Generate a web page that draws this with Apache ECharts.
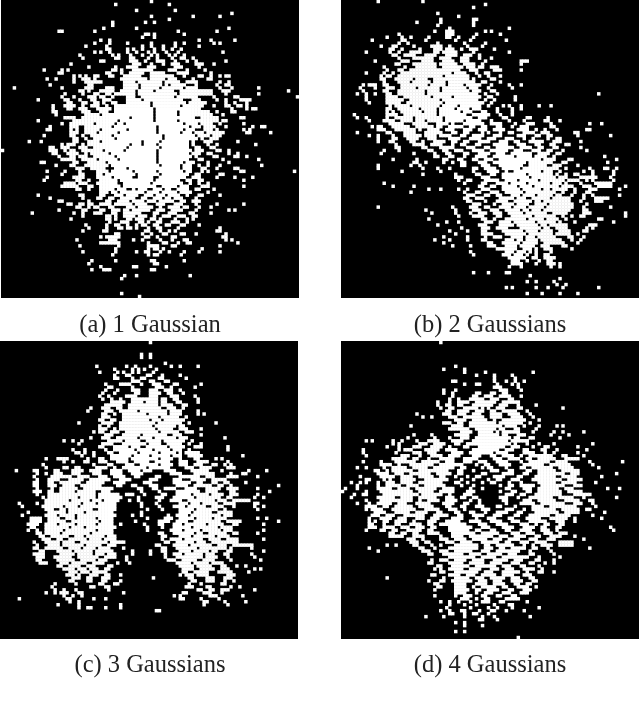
<!DOCTYPE html>
<html>
<head>
<meta charset="utf-8">
<title>Gaussian mixtures</title>
<style>
  html, body { margin: 0; padding: 0; background: #fff; overflow: hidden; }
  #main { width: 640px; height: 704px; }
</style>
</head>
<body>
<div id="main"></div>
<script src="https://cdn.jsdelivr.net/npm/echarts@6/dist/echarts.min.js"></script>
<script>
// white cells of each binary image, one string per row, "a-b" is a run of columns
const rowsA = [
'50','38 56','','45 58','77','50 64 73','56','37 48 51','37','34 45 76',
'19-20 31 59 72','48-49 51 61','47 51','33 36 66 70 78','31 36 42 50 58 61 71 73','28 35 47 50 54 58 66','35-36 42 44 47 51 54 57 60','31 33 36 42 45 49 51 55 59 74','26 37 39 43 47 50 52 56 58 61','27 38-39 43-44 49 52 57 60-61 64',
'33-34 43-45 48 52-54 58 62 65 75','23 44-46 50 54 57-59 65-67 71','29 38 42-45 49-51 58-60 66','14 20 22 37-38 40 44-50 56-58 62 68','19-20 35-36 40 43-47 50-54 59-62 70','24 26 28 31-32 36-37 41-46 50-57 61 66-67 70 73 75-76','15 18 24 27-29 31 40-48 50-54 56-58 64 69-70','24 28-33 41-44 46-53 55-59 62-65 73 76','16 29-30 41-45 47-53 55 57-61 65 72 75-76','4 20 28-30 35-37 41-45 47-52 54-60 62-65 73 77 86',
'26-27 29 33-37 40-44 46-50 52-57 60-70 74-76 96','21 27 31-32 35-36 38-44 46-58 60-70 75 86','20 24 29-31 33-34 37 42-44 47-57 59-65 71 78-79 99','12 21-22 26 30-31 34-36 42-46 48-60 64-66 72 75 80-83','22-23 27-28 31-32 34 37-38 42-49 51-61 63-68 75 78 82','17 21-24 27 30-32 35 38-49 51-59 61-67 71 75-76 79-80 82','17 22-23 26-28 32-36 38-50 52-66 77 82 84-85','17-18 27-29 33-35 38-50 52-58 60-69 72 77-78','18 28-32 34-50 52-58 60-70 74','21-24 27-42 44-50 52-64 67-72 80-81',
'12 24-38 40-50 52-58 60-72 74-75','20 23-30 32-37 39-40 42-60 62-65 67-70 73 81','16 23-25 28-36 38-51 53-62 64-66 68-71 75 84 87-88','15-16 23 25 28-32 34-41 43-51 53-60 62-64 68-70 72 81 83','23-25 28-31 33-38 40-51 53-59 61-63 65-67 69-74 82-83 90','14 23-24 27 30-36 38-53 55-64 66-69 71-73','24-25 28 31-37 39-53 55-65 67 70-72','9 13 24-25 29-32 34-46 48-52 54-62 64 68-70 79','20 22-24 27 29-42 44-46 48-51 53-62 64 69 72 85','16-17 20-22 26-28 31-41 43-52 54-62 65-66 70-71',
'0 16-18 21 23-24 27-33 35-40 42-51 53-63 65-67 72-73 76','17-18 22-25 28 30-35 37-51 53-62 64-66 69-70 76 79','19 23-24 26-28 31-37 39-51 53-63 65 71-72 78-79 82','20-24 27-31 33-38 40-51 53-62 66-67 74 86','13-14 24-25 29-34 36-51 53-60 62-64 69 76','18 23-24 28-35 37-52 54-59 61-63 66 69 73 87','25-27 30-34 38-41 43-59 61-63 67-68 72 78-79','15 21 26 32-35 37-43 45-51 53-60 62-63 67 69 80-81 98','20 26-27 32-33 35-44 46-52 54-62 65-66 73-74','15 24-27 32-36 38-43 46-50 53-61 64-66 72 78 84',
'14 25-26 29 33-38 40-50 52-59 62-63 66-67 81','21-24 26-28 32-38 41-49 51-60 63 66 69','20-25 29-30 33-39 41-51 54-58 60-62 67-69 81','25-26 29 33-37 39-41 44 46-48 51-53 55-56 59-62 65-66 71','33-35 37-38 40-47 49-52 54-58 60-63 69','12 26-27 33-34 38-40 42-45 48-50 52-54 56-59 62 66-67 73','16 27 32-33 36-37 40-44 47-48 51-53 55-56 58-60 65','19-20 29 35-36 39-42 44-47 49-51 53-57 60-61 64-66','22-23 26-27 29-30 33-36 38-43 45-48 52-54 58-60 65 72 81','25-26 29 31-32 36-37 42-44 46-50 53 56-59 61-62 66 70',
'19 27-28 33-34 37-39 41-42 44-49 52-54 57-60 65 76 78','10 24 27 31-33 37-38 41-46 51-52 56-58 63-64 70','27 35-36 38 41-44 46-48 51 54-56 59-61 64-65','23 35-36 38 42-43 45-47 50-51 53 58 62 64','36 40-42 46-47 49 52-53 57-59 62','28 35 38-39 42 45 47-48 51-52 55-56 60-61 66','29 35 39-40 42-43 45 49 52-53 59 73','27 34-35 48-49 53 56 58 72-73','38-39 47 50 54-55 60-61 65 75','33 35-39 48-49 52 57-58 74-75',
'25 36-38 44 47 53 57 61-62 75 77','33-39 49 54-55 59 62-63 79','26 39 49-52 57-58 73','38 49 51-52 54 67','27 38 45 48-49 53 56 61 66 73','37 49 51-52 60','','30 38 50-51 61','29 51-52','33 44-45 55',
'30 34-36 50-51','','41 45 63','40','','','','','40',
'46'];
const rowsB = [
'12 27','48','44','','32','39','33 44-45','25 33 44','32 44','36 56',
'31 35-37 48 50','19 35-37 45 53','15 20 23 29 35-36 39 44','10 20-21 28 38 43 55','19 22 32 41 48','13 17-18 24 30-33 36 42 47','16-17 20 26 31-33 35-37 40 43-45 51','8 16 19 23-26 31-32 34-38 44 56','17-18 21-24 28-31 35-38 41-43 46','19 24-30 33-36 40-42 46 50',
'11 20-22 27-30 34-37 40-42 48 60-62','18-19 24-31 33-38 41-44 47 60','14 21 25-31 34-40 42-44 46-47 50-52','15 19-20 23-39 43-45 51-53 60','8 14 17 20-36 38-41 45 48-49','13 15-16 19-33 35-42 46 49 53','13-14 18-23 25-28 31-42 44 50-51','14 19-22 24-29 31-34 36-44 47-48 53','7 9-11 14-15 20-28 30-34 36-40 42-46 50 56 60','6 11 15-17 20-24 26-32 34-41 43-45 49 57',
'7 14-15 19-27 29-32 34-42 44-46 50-51','5 8 11 15-16 19-27 29-45 48 52 86','8 15-18 21-29 31-36 38-46 49-50 58','8 15-20 23-32 34-45 48 51 58','9 15-19 22-33 35-47 50','16 18-22 24-32 34-38 40-46 49 54 56 60 66 70','15-16 19-25 27-31 33-37 39-42 44-46 52 57 60','15 17 20-26 28-31 33-39 41-43 47-48 52 57','4 15-18 21-31 33-41 44-49 53 57','5 8 15 18-23 25-33 35-43 46-48 54-55 62-63 69',
'9 14-17 20-23 25-27 29-33 35-40 42-46 50 56 61 68-69 73','16-20 24-28 32-35 37 41-47 50-53 58 62-64 70 83 87','10 12-13 17-22 25-30 32-33 36-40 43-44 47-48 52-53 57 60-62 70-71','12-14 18-24 26 29-32 35-37 41-43 46-48 51-54 59-62 65 68 72 82-83','5 15-16 21-24 28-33 37-38 41-42 47 49 53 56-57 61-64 67-69 78-79','9 12 17 21-26 28-31 33-36 40-41 44-47 51-53 59-61 65-66 69-70 79 90','12 17-18 22-25 29-31 36-39 43-46 49-51 55-57 61 64 69 72-73','12 16-17 23-24 27 31-34 37-38 41-42 46-49 53-55 58-59 63-67 71-73 80','18 24-27 30-33 37 40-41 45-46 51-55 59-61 65-66 70-71 75-76','18-19 27-28 33-37 42-44 48-49 52-57 60-63 66-67 71-72 80',
'14 19 29-30 34-35 38-40 44-47 50-55 58-60 64-66 69-70 74 82','13 24 31 35-36 41-42 46-49 52-54 57-63 66-69 72-73','31-32 36-37 41 45-48 51-57 59-63 65-68 71 88','17 25 34-35 39-40 44-45 48-50 53-66 68-71 76-77 92','24-25 28 34 37 40-41 46-48 51-61 63-70 74-75 89','12 23 26 40-41 47-49 53-60 63-68 71-73 79','12 27 32 36 44-45 48-51 54-59 61-72 75 83 88-89 92','20 33 44 49-52 55 58-66 68-70 73 81 84 91','27 38 45-46 50-51 54-61 63-70 72 75 78-79 84 91','38-40 47-49 54-62 64-71 73-75 80-85 90',
'39 42-43 48-52 55-58 60-65 67-74 76-79 82 84 91','14 41 47-48 52-55 57-61 63-69 71-73 75 80 85-90','17 24 46-47 50-51 54-58 60-63 65-72 74-77 81-83 86-90 95','29 33 39 42 47-49 54-59 61-66 68-69 71-75 78 83-85 93','23 41 45-46 50-52 55-60 62-71 74 78 82-83','42-44 48-49 52-53 57-59 61-64 66-70 72-73 77 81 84 93','41-42 45-47 53-57 59-61 64-69 71-76 81 85-89','42-43 48 52-55 58-63 65-66 68-76 80 85-87','44-46 51 54-57 59-62 65-68 70-77 82','12 37 43-45 48-49 53-56 58-61 63-67 69-77 81 90',
'28 38 44-46 50-52 55-59 61-62 64-66 68-76 81-82','30 38 43 46-48 51-53 56-60 62-68 71-75 81-83 95','39 44-47 52-53 57-63 65-71 74 77 80-81 95','29 47-48 51 55-61 63-67 69-72 75 86-87','35 39 48-50 53-56 58-64 66-71 73 78 91','32 46-48 53-57 59-65 67-68 70-75 83-85','40 47-49 52-55 60-66 68-69 72-75 82 84','36 42 47-48 54-60 62-65 67-70 73-76 81-82','38 47-50 55-61 63-70 72-76 79','34 42 48 51-53 57-60 62-64 66-71 76-77 81',
'31 36 42 47-48 55-57 59-60 62-65 67-73 77 80','34 49-50 54-59 61-65 68-74 79','37 43 49-51 55-58 60-64 67-69 74-75','52-58 61-63 65 68-70 77','43 55-57 59-61 63 65 70','44 54-56 58-60 62 65 68-69','56-61 64-65 68-71','57-59 62 66 69-70','57-60 65 69-71 73','56 60 70 73',
'','44 49 55-56','63','73','62 65 71','72 75','55 57 65 69 74 86','','62 67 73 79','',
'60 62 66','','','','','','','','','68'];
const rowsC = [
'50','','','','47 50','47 50','','55','32 42 45 50 57 60 66','38 44 46 48 52',
'33 39 41 44 46 51','38 42-43 49-50 54 60','38-39 44 47-48 53-54 62','44-46 50-51 55-56','35 40-43 47 51-53 58-59 67','36-37 44 52-54 57 65','35 39 44-46 50-52 55-57 60','34 38 45-46 50-53 56-57 61','33 36 42-45 50-52 57-59 65','34 37 40 44-52 54-55 58-59 66',
'37-41 44-47 49-52 54-55 59-60 66','35-40 43-52 54-57 61-62','30 34-36 39-40 43-53 56-58 61','29 35-37 40-45 47-55 57-60 66','34-35 38 41-48 50-55 57-60 66 68','34-36 41-52 54-59 62','33-34 37-38 41-49 51-53 55-61','26 34-37 40-51 53-60 63 72','33 36 40-50 52-58 60-61','33-35 38 40-51 53-57 60-62 67',
'31 33-34 37-39 42-52 54-59 62-64','35-37 41-46 48-55 58-60 67','30 34-36 39-45 47-50 52-58 60-62 75','21 24 27 36-40 42-46 49-53 55-61 64','26 34-37 41-48 50-53 56-60 63 67','33-34 38-42 44-46 49-55 57-61 65-67 76','24 28 35 38-44 46-50 52-56 58-60 63 76','25-26 28 31 36-37 40-45 47-52 54-58 60 62-66','27 31 37-43 45-49 51-56 58-60 63-67 81','15 19-22 29 33-34 37-42 44-52 54-57 60 65-66 72 74',
'21 24 28-29 33-35 39-42 45-49 52-56 60-62 66-69 76','14 31 36-37 42-44 47-52 54-57 60-62 65-67 71-72 75 77','15 21-22 25-26 32-35 38 41-48 50-56 62-64 67-70 76-78','5 11-12 18-19 24-27 30-33 37-40 43-46 48-50 55-58 64-69 74 83 89','12 15 18-20 24-26 31-33 37-40 44-47 57-60 65-71 77 81-82','11 17-23 26-29 33-35 38-41 45-46 52-53 60-66 69-71 76-79 86','12 16-19 23-27 30-36 40-43 50-52 58-60 64-68 71-75','11-12 16-17 20-26 29-34 38-41 48-50 58-63 66-67 71-72 75-76 82','11-12 16-18 21-24 27-33 39-40 44-45 50-52 59-62 65-70 73-74 77 93','12 17 20-25 28-37 46-47 51-52 55-58 62-65 69-73 76-79 86',
'11-13 16-17 20-24 26-31 34-36 47 53 59-66 69-72 77-78 90','12 16-31 33-39 42-44 48 54-55 59-63 65-69 71-74 77-79 86','14 16-25 27-31 33-40 46 52-54 58-64 66-73 76-77 85 88','15-22 24-29 31-33 35-39 43 46 53 57-60 63-71 73-75 78-83','6 12 15-26 28-31 33-38 47 52 60-62 64-66 68-72 75-78 85-86','7 14-20 22-25 27-38 47 53 58-61 63-68 71-74 78 85 88','15-17 20-21 23-30 33-38 49 54 60-64 66-72 75 86','9 16-21 23-27 29-37 47 60-63 65-70 73-77','7 15-18 20-24 26-38 44 47 56 59-62 64-73 75-77','10-13 16-19 22-24 26-31 33-37 49 55-57 60-64 66-70 72-75 86 89',
'10-13 16-21 24-32 34-37 45 53-56 59-62 65-73 76-80 93','9-12 15-18 20-24 26-31 33-37 40 48 53-54 58-60 62-68 70-74 78-79 88','10-11 15-22 24-27 29-38 49 54 58-63 65-72 74-77','9 12 15-20 22-31 33-37 49 57-60 62-66 68-73 75-77 88','12-13 15-19 21-29 31-37 53-54 58-64 66-67 70-75 78-79 86','13-14 17-22 25-27 29-34 36-38 54-55 60-63 65-71 73-76','14-16 19-20 23-28 30-33 35-38 54 57-60 62-67 70-73 76-79 88','11 15-19 21-24 27-35 37-41 55-56 59-64 66-68 71-79','12 16-19 21-27 29-33 36-38 52-53 58-62 64-70 73-75 78-84','11-12 15-20 23-26 28-31 33-36 41 54-55 59-65 67-75 77 84',
'13-14 19-23 25-30 32-37 44 50 54-55 60-63 65-69 71-72 76-77 88','11-14 20-24 26-30 32-34 36-38 44 50 55 58-60 62-67 69-71 75-76 84','12-14 18-23 26-32 35-38 42 55 59-67 69-72 76 85','12-13 19-24 27-31 33-35 42 56-58 61-65 68-71 77 87','13-15 20-22 24-28 31-34 39 43 59-63 65-69 71-74','19-20 23-26 29-31 36-37 60-64 66-70 74-75 79 82','21-24 26-28 30-32 35-36 61-64 67-71 74-76 85 87','23-25 27-29 31-35 61-62 65-69 73-77 83','22-24 26 30-32 35-36 40 60 62-64 66-69 76-78','24-26 29-30 34-36 51 63-64 69-71 75-77',
'23-24 29-30 34-35 40 64-65 69-71 75 78','18 25 33-34 38-39 63 67 74-75','17 30-31 35-36 62-64 69-70 77 80','18 21 25 36 66-67 70-71 74-76 85','15 18 20-22 26-27 41 61-62 68-70 74','21 24 27 58 60 70-72 81','6 22-23 31 35 60-61 67 73','23 26 68-69 75 82','19 26 40 68 76','26 29-30 35 40','52-53'
];
const rowsD = [
'33','','','','','','','','38','34 41',
'41 48 64','45 51 57','51 58','37-38 51 55 58 61','41 45-46 52 57 59','51-53 59','34 38 53-55 60','34 37 45-46 50-51 54-55','37 44-45 48-50 53-56 60','36 39 43-47 50-52 56-57',
'32 36 39-42 45-51 54-59','32 35-36 39-40 44-50 53-55 59 65','33 36-37 41-45 47 49 52-54 59-60 74','35-36 39-42 45-47 50-51 54-58 62','25 34-36 39-41 44-46 50-53 56-59 63','27 30 36-38 41-47 50-53 57-60 64','38-41 44-48 51 54-61 66','34-36 39-40 43-51 53-60 63','23 37-40 43-53 55-58 61 66 72 74','36-42 45-51 53-54 58-59 65',
'40-43 46-50 52 54-59 64 71 74 81','24 30 38-42 46-52 54-55 59-61 70 76','22 31 36 40-42 45-56 58-59 63-64 73','8 10 17 20 25 29-32 37-40 44-55 57-62','17 19 26-28 31-34 38-39 42-56 58 62 66 71 84','15 19 24-26 30-33 36 41-42 46-54 57-59 64 68-69 79','7 19 21-23 28-32 35-38 44-52 55-57 61-62 67-68 72 82','7 18 24-26 29-31 37-40 43-50 52-55 61-64 68 71 79','8 20-22 26 30-33 36-39 44-46 50-51 54-57 60 63-70 74-75 81','17-21 24-25 29 33-37 41-45 51-53 56-59 62-63 66-71 75-79',
'7 13 18-24 27-32 35-37 41-43 46-48 52-55 60 63-69 72-75 83 94','13-16 19 23-30 33-40 45 48-49 53-56 61-67 70-76 84','5 8 14 17-21 24-28 31-37 40-41 47 49-50 55 60-61 64-70 73-77 86','11-12 15 17-23 26-35 39-40 44 50-52 56-57 62-63 66-71 74-79','12-15 18-20 23-29 32-36 39-40 47-48 54-57 61-62 66-74 77-79 92','6 13-17 20-23 26-30 33-34 38 42 45-46 51-54 59-60 65-71 74-78 87','8-9 14 16 20-24 28-35 40 44 49 52-53 57-59 64-73 76-80','3 6 8 12 15-17 20-23 26-33 38-39 42 47 50-51 56 60 66-71 74-78 85','5 12 15-19 22-25 28-34 40 44 53 56-57 60-64 67-74 78-80','1 5 12-16 19-22 25-31 34-37 43 47 55-56 61-63 66-72 75-77 89 93',
'0 8 13-23 26-30 33-37 42-44 53 57-58 62-63 66-73 76-80','4 7-8 14-25 27-33 36 41-43 55-57 60-61 65-73 78-83','3 12-17 20-23 26-31 35-37 40-41 44-45 53-55 59 63-70 73-77 81 92','8 13-23 26 29-32 35-38 43 46 54-55 61-63 66-71 75-79 83-84','5 9 12-16 19-21 25-29 34-37 41-42 46 55 60-64 67-74 78-80 84','8-11 14-15 18-23 26-30 35-36 40-41 45-47 52-53 58 64-67 70-78 85','8 10-13 17-24 28-32 36-38 41 47-49 55-57 61 64-71 74-79 82-83','11-14 18-22 25-28 32-33 38-39 43-44 48 52-55 59-60 65-72 75-79 88','10-12 15-17 21-27 31-35 39-40 44-47 51-53 58-59 63-69 72-76 84','9 13-16 19-21 25-27 30-32 37-40 45 49-51 56-57 62-66 70-75 78 87',
'9 11 14-15 18-21 24 29-31 35-39 43-46 50-53 57-59 63-68 72-74 78','9-10 14 18-19 23-26 29-30 33-41 46-48 52-55 60-62 65 68-69 73-74','9-11 14-17 20-22 25-27 30-31 36-43 47-49 54-57 61-64 67-68 72-73 90','8 13-14 17-18 22-26 29-30 36-42 45-46 50-51 55-56 60-63 67-69 72 91','16-17 20-21 24-25 29-32 37-44 47-52 57-59 62-64 68-70 73-75','16-20 24-27 33 37-40 43-50 53-55 58-61 65-66 70-73 78','22-24 27 33-35 38-41 44-48 51-53 56-59 63-65 69-71 81','23-25 28-29 35-37 40-43 47-52 55-56 60-62 65-68 73-77','15 18 24-25 30 33 38-45 48-49 52-57 61 64 67-70 73-77','9 26-27 31 36-45 48-50 53-54 57-61 64-65 69 83',
'12 27-29 33-35 38-43 47-49 52-59 63 70','29-30 34-40 43-46 49-53 56-58 63-64 71','36-44 47-51 54-62 66 73','30 33-35 38-41 44-47 51-55 58-60 65-66 71','29-30 36-40 43-47 50-53 57-59 63-64 68 71','32-33 37-42 45-51 54-56 60-61 66','31 33 36-40 43-46 50-52 55-57 61-64 67','33-34 38-45 48-50 54-59 62 66-67 71','30-31 36-39 42-44 47-51 54-57 61-63','15 34 38-42 45-47 50-54 57-59 63-64',
'29 33-34 37-43 46-48 51-53 57-60 64-65','31-32 38-41 45-48 51-54 58-59 62-63','32-33 38-41 44 47-51 54-55 59-62 65','31 38-42 45-46 49-52 56-57 61-63','38-41 45 48-50 54-56 60-62','31 38 41-43 47-48 52-53 57-58','40-42 45 48-49 55-59','33 36 39 43 47-49 53-54 62','36 41 45 51 56-57','35 43 49 52 57 66',
'33 36 40-41 46 50-51 55 61','36-37 41 44-45 49','28 34 41 47 51 63','46-47 52','38 41','41 47','','38 41','','59',
'65','','','','','','','','','65'
];
const rowsList = [rowsA, rowsB, rowsC, rowsD];
const captions = ['(a) 1 Gaussian', '(b) 2 Gaussians', '(c) 3 Gaussians', '(d) 4 Gaussians'];
const figCaption = 'Fig. 6: Examples of mixtures of Gaussians';
const gridCols = Array.from({ length: 100 }, (_, i) => i);

// turn the row strings into [col, row, 1] cells for the heatmap
function toCells(rows) {
  const cells = [];
  rows.forEach((line, r) => {
    line.trim().split(/\s+/).filter(Boolean).forEach(part => {
      const [a, b] = part.split('-').map(Number);
      for (let c = a; c <= (b === undefined ? a : b); c++) cells.push([c, r, 1]);
    });
  });
  return cells;
}

const panelBox = [
  { left: 1, top: 0 }, { left: 341, top: 0 },
  { left: 0, top: 341 }, { left: 341, top: 341 }
];
const captionCenter = [150, 490, 150, 490];
const captionTop = [313, 313, 653, 653];
const serif = '"Liberation Serif", "Times New Roman", serif';

const chart = echarts.init(document.getElementById('main'), null, { renderer: 'canvas' });
chart.setOption({
  animation: false,
  backgroundColor: '#fff',
  grid: panelBox.map(b => ({
    left: b.left, top: b.top, width: 298, height: 298,
    show: true, backgroundColor: '#000', borderWidth: 0
  })),
  xAxis: panelBox.map((b, i) => ({ type: 'category', gridIndex: i, data: gridCols, show: false })),
  yAxis: panelBox.map((b, i) => ({ type: 'category', gridIndex: i, data: gridCols, inverse: true, show: false })),
  title: captions.map((t, i) => ({
    text: t, left: captionCenter[i], top: captionTop[i], textAlign: 'center', padding: 0,
    textStyle: { fontFamily: serif, fontSize: 24.5, fontWeight: 'normal', color: '#222' }
  })).concat([{
    text: figCaption, left: 320, top: 703, textAlign: 'center', padding: 0,
    textStyle: { fontFamily: serif, fontSize: 24.5, fontWeight: 'normal', color: '#222' }
  }]),
  series: rowsList.map((rows, i) => ({
    type: 'heatmap', xAxisIndex: i, yAxisIndex: i,
    data: toCells(rows),
    itemStyle: { color: '#fff' },
    emphasis: { disabled: true }
  }))
});
</script>
</body>
</html>
